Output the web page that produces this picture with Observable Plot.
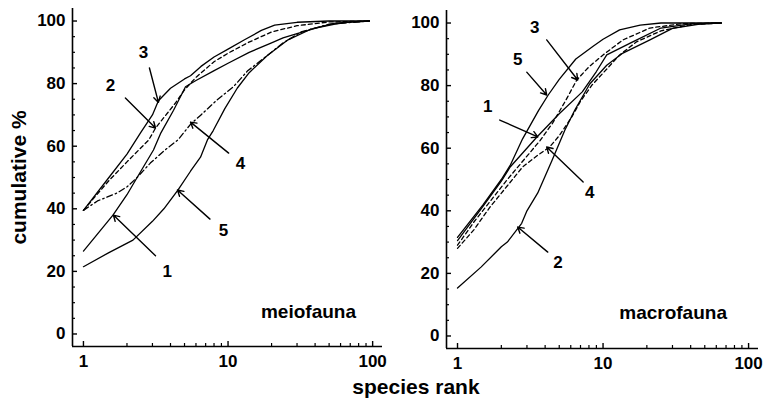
<!DOCTYPE html>
<html><head><meta charset="utf-8">
<script src="https://cdn.jsdelivr.net/npm/d3@7"></script>
<script src="https://cdn.jsdelivr.net/npm/@observablehq/plot@0.6"></script>
<style>
body{margin:0;background:#fff;}
#wrap{position:relative;width:763px;height:403px;overflow:hidden;font-family:"Liberation Sans",Arial,sans-serif;}
#left{position:absolute;left:0;top:0;}
#right{position:absolute;left:390px;top:2px;}
#xlabel{position:absolute;left:416px;top:375px;transform:translateX(-50%);font-size:21px;line-height:24px;font-weight:bold;white-space:nowrap;color:#000;}
svg [aria-label="y-axis label"] text{font-size:21px;}
</style></head>
<body>
<div id="wrap"><div id="left"></div><div id="right"></div><div id="xlabel">species rank</div></div>
<script>
// axes
const xDomain = [0.84, 117];
const yDomain = [-4, 104];
const xMajor = [1, 10, 100];
const xMinor = [2,3,4,5,6,7,8,9,20,30,40,50,60,70,80,90];
const yMajor = [0, 20, 40, 60, 80, 100];
const yMinor = [5,10,15,25,30,35,45,50,55,65,70,75,85,90,95];

// meiofauna curves: [species rank, cumulative %]
const meio1 = [[1,26.5],[1.6,38],[2,44.5],[2.35,50],[3.05,58.8],[3.41,64],[4.2,71.5],[5.08,79],[6,81],[7.9,84],[10,86.5],[14,90],[20,93],[24,94.6],[30,96],[41,97.8],[55,99],[70,99.7],[95,100]];
const meio2 = [[1,39.5],[1.15,42.8],[1.5,49],[2,55],[2.83,62],[3.15,65.8],[4.33,73.8],[5,78],[6,82],[8,87],[10,89.7],[13.6,93],[20,96.5],[30,98.5],[50,99.7],[95,100]];
const meio3 = [[1,39.5],[1.5,50],[2,57.5],[2.5,64.5],[3,70],[3.3,74.5],[4,78.5],[5,81.5],[5.5,82.5],[6.5,85.5],[8,88.5],[10,91],[13,94],[17,97],[21,98.7],[30,99.6],[50,100],[95,100]];
const meio4 = [[1,39.5],[1.25,42.5],[1.7,45],[2,47],[2.35,50],[2.9,54.6],[3.6,58.5],[4.5,62],[5.5,67],[6.5,70],[8.4,74.8],[10.9,79],[13.6,84],[18.7,89],[24,93],[32,96.5],[50,99],[95,100]];
const meio5 = [[1,21.5],[1.5,26],[2.2,30],[3,36],[3.6,40],[4.5,46],[5.5,52],[6.45,56.5],[7.2,62],[7.9,65],[9.5,72],[11.6,78.6],[14,83.5],[18.7,89],[26,94],[37,97.3],[55,99.3],[95,100]];

// macrofauna curves
const macro1 = [[1,30.5],[1.5,41.5],[2,49.5],[2.3,54],[3.5,63.5],[5,71],[7.2,78],[9,84.5],[10.6,89.8],[16,94],[25,98.4],[40,99.7],[65,100]];
const macro2 = [[1,15.3],[1.45,22],[2,28.5],[2.2,30],[2.76,36],[3,40],[3.56,45.7],[4.45,56],[5.47,65.8],[6.4,72.2],[8.1,80.5],[10.6,86.5],[13.7,90.4],[21,94.6],[30,98.3],[45,99.6],[61,100]];
const macro3 = [[1,29],[1.3,36.5],[2.2,50],[3.7,62.5],[4.5,68],[5.5,75],[6.6,81.8],[8,86],[10,89.8],[13.7,94.6],[21,98.4],[35,99.8],[65,100]];
const macro4 = [[1,28],[1.3,34],[1.66,41],[2.2,48],[2.8,54],[3.5,57.5],[4.3,60.4],[5,64],[6.1,70],[7,75],[8.4,80.2],[10,84],[13,89.8],[17,94],[25,97.5],[40,99.5],[65,100]];
const macro5 = [[1,31.5],[1.5,42],[2,50],[2.3,54.5],[2.8,63],[3.6,72],[4.2,77],[5,82],[6.5,88.5],[8.5,92.5],[10,94.8],[13,97.8],[18,99.3],[25,100],[65,100]];

// annotations (data coordinates)
const meioLabels = ["3","2","4","5","1"];
const meioLabelX = [2.6,1.54,12.2,9.3,3.8];
const meioLabelY = [89.8,79.5,54.6,33.2,19.8];
const meioArrowX1 = [2.86,1.95,10.1,7.5,3.15];
const meioArrowY1 = [85,75.4,57.8,36.7,25];
const meioArrowX2 = [3.3,3.15,5.5,4.47,1.61];
const meioArrowY2 = [74,65.8,67.7,46,38];

const macroLabels = ["3","5","1","4","2"];
const macroLabelX = [3.39,2.59,1.61,8.1,4.9];
const macroLabelY = [98.4,88.2,73.2,45.7,23.6];
const macroArrowX1 = [4.1,2.99,1.95,7.3,4.17];
const macroArrowY1 = [94.6,84.3,69,49.2,26.8];
const macroArrowX2 = [6.7,4.1,3.56,4.1,2.59];
const macroArrowY2 = [81.8,77,63.6,60.4,34.8];

const panelNames = ["meiofauna","macrofauna"];
const panelNameX = [36, 30.3];
const panelNameY = [7, 7.3];

const dashStyle = "4,3";
const dashDotStyle = "6,3,1.5,3";

const H = 372, MT = 8, MB = 26;

function panel(o) {
  const idx = d3.range(o.labels.length);
  const fw = o.width - o.marginLeft - o.marginRight;
  const fh = H - MT - MB;
  const marks = [
    Plot.ruleX([xDomain[0]], {strokeWidth: 1.6}),
    Plot.ruleY([yDomain[0]], {strokeWidth: 1.6}),
    Plot.axisY(yMajor, {anchor: "left", tickSize: 0, tickPadding: 7,
      label: o.ylabel, labelAnchor: "center", labelArrow: "none", labelOffset: 61}),
    Plot.axisX(xMajor, {anchor: "bottom", tickSize: 0, tickPadding: 8, tickFormat: d => String(d), label: null}),
    Plot.tickY(yMajor, {y: d => d, insetRight: fw - 5, stroke: "black", strokeWidth: 1.4}),
    Plot.tickY(yMinor, {y: d => d, insetRight: fw - 3, stroke: "black", strokeWidth: 1.2}),
    Plot.tickX(xMajor, {x: d => d, insetTop: fh - 5, stroke: "black", strokeWidth: 1.4}),
    Plot.tickX(xMinor, {x: d => d, insetTop: fh - 3, stroke: "black", strokeWidth: 1.2})
  ];
  o.curves.forEach((c, i) => {
    marks.push(Plot.line(c, {x: d => d[0], y: d => d[1], stroke: "black", strokeWidth: 1.3,
      strokeDasharray: o.dashes[i] || null}));
  });
  marks.push(Plot.arrow(idx, {x1: i => o.ax1[i], y1: i => o.ay1[i], x2: i => o.ax2[i], y2: i => o.ay2[i],
    stroke: "black", strokeWidth: 1.4, headLength: 7}));
  marks.push(Plot.text(idx, {x: i => o.lx[i], y: i => o.ly[i], text: i => o.labels[i],
    fontSize: 17, fontWeight: "bold", textAnchor: "middle", lineAnchor: "middle"}));
  marks.push(Plot.text([o.name], {x: o.nameX, y: o.nameY, text: d => d,
    fontSize: 19, fontWeight: "bold", textAnchor: "middle", lineAnchor: "middle"}));
  return Plot.plot({
    width: o.width, height: H,
    marginLeft: o.marginLeft, marginRight: o.marginRight, marginTop: MT, marginBottom: MB,
    x: {type: "log", domain: xDomain},
    y: {type: "linear", domain: yDomain},
    style: {fontFamily: '"Liberation Sans", Arial, sans-serif', fontSize: "17px", fontWeight: "bold", background: "white", color: "black", overflow: "visible"},
    marks
  });
}

document.getElementById("left").append(panel({
  width: 390, marginLeft: 72, marginRight: 8, ylabel: "cumulative %",
  curves: [meio1, meio2, meio3, meio4, meio5],
  dashes: [null, dashStyle, null, dashDotStyle, null],
  labels: meioLabels, lx: meioLabelX, ly: meioLabelY,
  ax1: meioArrowX1, ay1: meioArrowY1, ax2: meioArrowX2, ay2: meioArrowY2,
  name: panelNames[0], nameX: panelNameX[0], nameY: panelNameY[0]
}));
document.getElementById("right").append(panel({
  width: 373, marginLeft: 56, marginRight: 5, ylabel: null,
  curves: [macro1, macro2, macro3, macro4, macro5],
  dashes: [null, null, dashStyle, dashStyle, null],
  labels: macroLabels, lx: macroLabelX, ly: macroLabelY,
  ax1: macroArrowX1, ay1: macroArrowY1, ax2: macroArrowX2, ay2: macroArrowY2,
  name: panelNames[1], nameX: panelNameX[1], nameY: panelNameY[1]
}));
</script>
</body></html>
